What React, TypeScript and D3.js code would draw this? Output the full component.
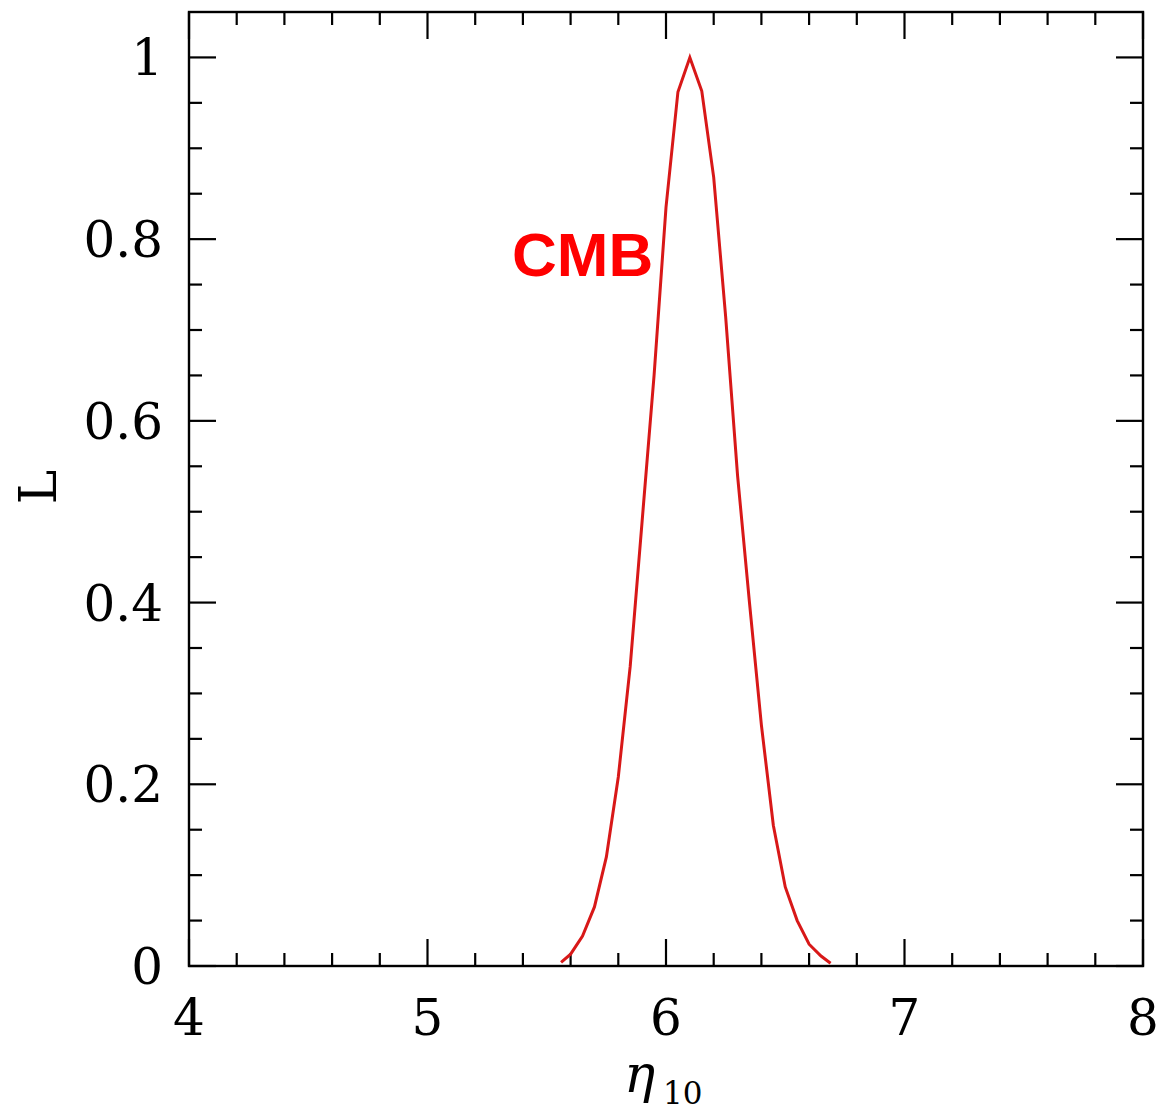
import React from "react";
import * as d3 from "d3";

const etaValues = [5.56, 5.6, 5.65, 5.7, 5.75, 5.8, 5.85, 5.9, 5.95, 6.0, 6.05, 6.1, 6.15, 6.2, 6.25, 6.3, 6.35, 6.4, 6.45, 6.5, 6.55, 6.6, 6.65, 6.69];
const likelihood = [0.004, 0.013, 0.033, 0.065, 0.12, 0.208, 0.33, 0.49, 0.65, 0.835, 0.962, 1.0, 0.963, 0.868, 0.715, 0.54, 0.4, 0.265, 0.155, 0.087, 0.05, 0.024, 0.011, 0.003];

const xMajorTicks = [4, 5, 6, 7, 8];
const xTickLabels = ["4", "5", "6", "7", "8"];
const yMajorTicks = [0, 0.2, 0.4, 0.6, 0.8, 1.0];
const yTickLabels = ["0", "0.2", "0.4", "0.6", "0.8", "1"];
const xMinorStep = 0.2;
const yMinorStep = 0.05;
const seriesLabel = "CMB";

const W = 1162;
const H = 1113;
const left = 189, right = 1143, top = 12, bottom = 966;

export default function App() {
  const x = d3.scaleLinear().domain([4, 8]).range([left, right]);
  const y = d3.scaleLinear().domain([0, 1.05]).range([bottom, top]);

  const xMinor = d3.range(4, 8 + 1e-9, xMinorStep).filter(v => Math.abs(v - Math.round(v)) > 1e-6);
  const yMinor = d3.range(0, 1.05 - 1e-9, yMinorStep).filter(v => Math.abs(v * 5 - Math.round(v * 5)) > 1e-6);

  const line = d3.line<number>()
    .x((_, i) => x(etaValues[i]))
    .y(d => y(d));

  const major = 27, minor = 13;
  const tickStroke = { stroke: "#000", strokeWidth: 2.2 };
  const serif = "'DejaVu Serif', 'Liberation Serif', serif";

  return (
    <svg width={W} height={H} style={{ position: "absolute", left: 0, top: 0, background: "#fff" }}>
      <rect x={0} y={0} width={W} height={H} fill="#fff" />
      {xMajorTicks.map(v => (
        <g key={"xM" + v}>
          <line x1={x(v)} x2={x(v)} y1={bottom} y2={bottom - major} {...tickStroke} />
          <line x1={x(v)} x2={x(v)} y1={top} y2={top + major} {...tickStroke} />
        </g>
      ))}
      {xMinor.map(v => (
        <g key={"xm" + v}>
          <line x1={x(v)} x2={x(v)} y1={bottom} y2={bottom - minor} {...tickStroke} />
          <line x1={x(v)} x2={x(v)} y1={top} y2={top + minor} {...tickStroke} />
        </g>
      ))}
      {yMajorTicks.map(v => (
        <g key={"yM" + v}>
          <line x1={left} x2={left + major} y1={y(v)} y2={y(v)} {...tickStroke} />
          <line x1={right} x2={right - major} y1={y(v)} y2={y(v)} {...tickStroke} />
        </g>
      ))}
      {yMinor.map(v => (
        <g key={"ym" + v}>
          <line x1={left} x2={left + minor} y1={y(v)} y2={y(v)} {...tickStroke} />
          <line x1={right} x2={right - minor} y1={y(v)} y2={y(v)} {...tickStroke} />
        </g>
      ))}
      <rect x={left} y={top} width={right - left} height={bottom - top} fill="none" stroke="#000" strokeWidth={2.4} />

      {xMajorTicks.map((v, i) => (
        <text key={"xl" + v} x={x(v)} y={1035} textAnchor="middle" fontFamily={serif} fontSize={50} fill="#000">
          {xTickLabels[i]}
        </text>
      ))}
      {yMajorTicks.map((v, i) => (
        <text key={"yl" + v} x={163} y={y(v) + 18} textAnchor="end" fontFamily={serif} fontSize={50} fill="#000">
          {yTickLabels[i]}
        </text>
      ))}

      <text transform={`translate(56, 487) rotate(-90)`} textAnchor="middle" fontFamily={serif} fontSize={52} fill="#000">L</text>
      <text x={624} y={1092} fontFamily={serif} fontStyle="italic" fontSize={52} fill="#000">η</text>
      <text x={663} y={1104} fontFamily={serif} fontSize={31} fill="#000">10</text>

      <path d={line(likelihood) || ""} fill="none" stroke="#d81818" strokeWidth={3} strokeLinejoin="miter" />

      <text x={512} y={276} fontFamily="'Liberation Sans', Arial, sans-serif" fontWeight="bold" fontSize={62} fill="#ff0000">
        {seriesLabel}
      </text>
    </svg>
  );
}
